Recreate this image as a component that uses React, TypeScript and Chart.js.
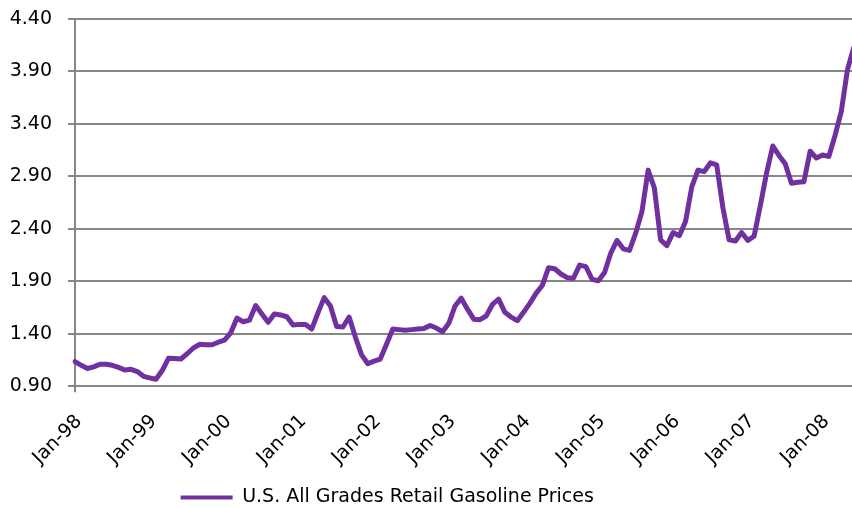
import React, { useEffect, useRef } from "react";
import { Chart, registerables } from "chart.js";

Chart.register(...registerables);

// ---------- data ----------
const MONTHS = ["Jan", "Feb", "Mar", "Apr", "May", "Jun", "Jul", "Aug", "Sep", "Oct", "Nov", "Dec"];
const YEARS = ["98", "99", "00", "01", "02", "03", "04", "05", "06", "07", "08"];

const PRICES_1998 = [1.135, 1.1, 1.07, 1.085, 1.11, 1.11, 1.1, 1.08, 1.055, 1.062, 1.04, 0.995];
const PRICES_1999 = [0.98, 0.967, 1.05, 1.167, 1.165, 1.16, 1.21, 1.265, 1.3, 1.297, 1.296, 1.32];
const PRICES_2000 = [1.34, 1.41, 1.55, 1.515, 1.53, 1.67, 1.59, 1.51, 1.59, 1.58, 1.563, 1.485];
const PRICES_2001 = [1.49, 1.49, 1.445, 1.6, 1.745, 1.665, 1.47, 1.465, 1.56, 1.37, 1.2, 1.115];
const PRICES_2002 = [1.14, 1.16, 1.3, 1.445, 1.44, 1.435, 1.44, 1.445, 1.45, 1.48, 1.455, 1.42];
const PRICES_2003 = [1.5, 1.665, 1.74, 1.635, 1.54, 1.535, 1.57, 1.68, 1.73, 1.605, 1.56, 1.525];
const PRICES_2004 = [1.605, 1.69, 1.785, 1.86, 2.03, 2.02, 1.97, 1.935, 1.93, 2.055, 2.04, 1.92];
const PRICES_2005 = [1.905, 1.985, 2.17, 2.29, 2.21, 2.195, 2.36, 2.565, 2.96, 2.79, 2.295, 2.24];
const PRICES_2006 = [2.365, 2.335, 2.47, 2.8, 2.96, 2.945, 3.03, 3.01, 2.6, 2.295, 2.285, 2.365];
const PRICES_2007 = [2.29, 2.33, 2.62, 2.93, 3.19, 3.1, 3.02, 2.835, 2.845, 2.85, 3.14, 3.075];
const PRICES_2008 = [3.105, 3.09, 3.29, 3.52, 3.92, 4.13];

const PRICES = [
  ...PRICES_1998, ...PRICES_1999, ...PRICES_2000, ...PRICES_2001, ...PRICES_2002,
  ...PRICES_2003, ...PRICES_2004, ...PRICES_2005, ...PRICES_2006, ...PRICES_2007, ...PRICES_2008,
];

const LABELS = YEARS.flatMap((y) => MONTHS.map((m) => `${m}-${y}`)).slice(0, PRICES.length);

const Y_MIN = 0.9;
const Y_MAX = 4.4;
const Y_STEP = 0.5;

const SERIES_NAME = "U.S. All Grades Retail Gasoline Prices";

// ---------- style ----------
const PURPLE = "#7030A0";
const GRID = "#878787";
const FONT = "'DejaVu Sans', 'Liberation Sans', sans-serif";

export default function App() {
  const ref = useRef<HTMLCanvasElement>(null);

  useEffect(() => {
    const canvas = ref.current;
    if (!canvas) return;
    Chart.defaults.font.family = FONT;
    Chart.defaults.color = "#000";

    const chart = new Chart(canvas, {
      type: "line",
      data: {
        labels: LABELS,
        datasets: [
          {
            label: SERIES_NAME,
            data: PRICES,
            borderColor: PURPLE,
            backgroundColor: PURPLE,
            borderWidth: 5,
            pointRadius: 0,
            pointHoverRadius: 0,
            tension: 0,
            fill: false,
            borderJoinStyle: "round",
            borderCapStyle: "round",
          },
        ],
      },
      options: {
        responsive: false,
        animation: false,
        devicePixelRatio: 1,
        events: [],
        layout: { padding: { left: 20.75, right: 26.25, top: 19, bottom: 3 } },
        plugins: {
          title: { display: false },
          tooltip: { enabled: false },
          legend: {
            position: "bottom",
            labels: {
              color: "#000",
              font: { size: 19, family: FONT },
              boxWidth: 52,
              boxHeight: 4,
              padding: 4,
              generateLabels: (c: any) =>
                Chart.defaults.plugins.legend.labels
                  .generateLabels(c)
                  .map((l: any) => ({ ...l, lineWidth: 0, fillStyle: PURPLE, strokeStyle: "rgba(0,0,0,0)" })),
            },
          },
        },
        scales: {
          x: {
            type: "category",
            offset: false,
            afterFit: (s: any) => {
              s.height = 97.7;
            },
            grid: {
              drawOnChartArea: false,
              drawTicks: true,
              tickLength: 6,
              lineWidth: 2,
              color: (ctx: any) => (ctx.index % 12 === 0 ? GRID : "rgba(0,0,0,0)"),
            },
            border: { display: true, color: GRID, width: 2 },
            ticks: {
              autoSkip: false,
              minRotation: 45,
              maxRotation: 45,
              padding: 18,
              labelOffset: 4,
              color: "#000",
              font: { size: 19, family: FONT },
              callback: (_v: any, i: number) => (i % 12 === 0 ? LABELS[i] : null),
            },
          },
          y: {
            min: Y_MIN,
            max: Y_MAX,
            afterFit: (s: any) => {
              s.width = 154.25;
              s.paddingTop = 0;
              s.paddingBottom = 0;
            },
            grid: {
              color: GRID,
              lineWidth: 2,
              drawTicks: true,
              tickLength: 7,
            },
            border: { display: true, color: GRID, width: 2 },
            ticks: {
              stepSize: Y_STEP,
              padding: 16,
              color: "#000",
              font: { size: 19, family: FONT },
              callback: (v: any) => Number(v).toFixed(2),
            },
          },
        },
      },
    });
    return () => chart.destroy();
  }, []);

  return (
    <div
      style={{
        position: "fixed",
        left: 0,
        top: 0,
        width: 852,
        height: 508,
        overflow: "hidden",
        background: "#fff",
      }}
    >
      <canvas
        ref={ref}
        width={980}
        height={520}
        style={{ position: "absolute", left: -100, top: 0 }}
      />
    </div>
  );
}
